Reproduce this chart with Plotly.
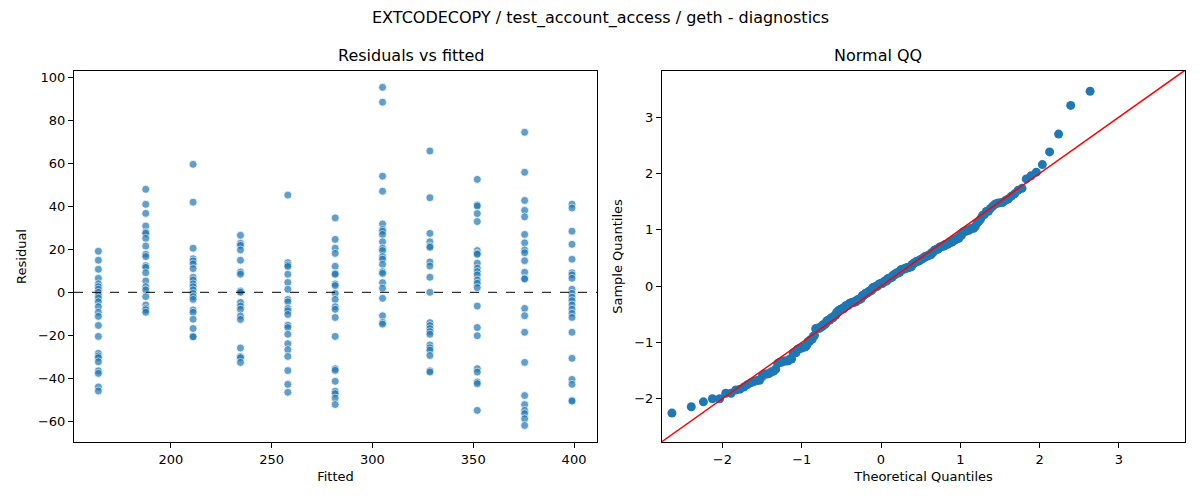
import math
import numpy as np
import plotly.graph_objects as go

# fitted values (one per group) and the residuals
fitted = [164, 187.5, 211, 234.5, 258, 281.5, 305, 328.5, 352, 375.5, 399]

res_164 = [19.1, 14.9, 10.7, 6.5, 3.9, 2.6, 1.4, 0, -1.4, -2.7, -4.4, -6.7, -9.3, -11.2,
           -15.4, -20.5, -28.4, -29.6, -30.4, -32.3, -36.5, -37.7, -44.0, -45.9]
res_187 = [47.9, 40.9, 36.7, 30.8, 28.0, 27.4, 25.1, 21.5, 17.7, 16.6, 12.4, 11.6, 9.1,
           5.3, 2.6, 1.1, -2.0, -5.9, -7.5, -8.2, -9.3]
res_211 = [59.5, 41.9, 20.5, 15.6, 14.6, 13.2, 11.0, 7.0, 5.7, 3.9, 2.6, 1.1, -0.5,
           -2.0, -3.3, -8.2, -9.3, -12.5, -16.8, -20.5, -20.7]
res_234 = [26.5, 22.8, 21.8, 19.7, 14.9, 9.4, 8.4, 0.6, 0, -4.7, -6.4, -7.9, -11.0,
           -12.6, -25.9, -29.9, -30.4, -32.6]
res_258 = [45.2, 13.8, 12.7, 12.0, 8.4, 4.6, 1.4, -3.3, -4.4, -7.5, -8.6, -10.3, -15.3,
           -16.4, -19.5, -23.9, -26.7, -29.8, -36.4, -42.8, -46.5]
res_281 = [34.6, 24.6, 20.5, 18.1, 12.1, 8.8, 8.4, 3.9, 3.1, -0.5, -3.3, -6.7, -7.9,
           -11.7, -20.5, -35.5, -36.3, -41.4, -46.0, -47.1, -49.2, -52.2]
res_305 = [95.3, 88.4, 54.0, 47.0, 31.8, 29.2, 28.4, 26.9, 23.5, 20.5, 19.4, 16.6, 15.4,
           13.0, 9.6, 8.8, 4.5, 1.9, -2.8, -10.9, -14.0, -14.8]
res_328 = [65.7, 44.0, 27.4, 23.5, 21.5, 20.9, 14.1, 12.2, 7.0, 0, -14.1, -15.5, -16.9,
           -18.3, -19.5, -24.5, -25.8, -26.9, -29.4, -36.5, -37.1]
res_352 = [52.5, 40.6, 40.1, 36.6, 32.9, 19.4, 18.1, 17.7, 13.5, 11.2, 9.6, 8.1, 5.7,
           4.2, 2.2, -6.4, -16.4, -20.2, -35.5, -37.1, -41.7, -42.5, -54.9]
res_375 = [74.4, 55.8, 42.7, 38.1, 35.1, 26.9, 23.0, 19.7, 18.4, 14.7, 9.3, 6.5, 6.2,
           -7.5, -10.9, -18.6, -32.6, -48.0, -52.2, -54.9, -56.4, -58.8, -61.9]
res_399 = [41.0, 39.2, 28.4, 22.3, 15.4, 9.1, 8.1, 6.5, 1.4, -0.5, -2.3, -3.9, -5.9,
           -7.9, -9.8, -11.7, -18.6, -30.7, -40.5, -42.8, -50.2, -50.6]

groups = [res_164, res_187, res_211, res_234, res_258, res_281,
          res_305, res_328, res_352, res_375, res_399]

x_fit = []
y_res = []
for f, g in zip(fitted, groups):
    x_fit += [f] * len(g)
    y_res += g
y_res = np.array(y_res)


def norm_ppf(p):
    lo, hi = -10.0, 10.0
    for _ in range(80):
        mid = (lo + hi) / 2
        if 0.5 * (1 + math.erf(mid / math.sqrt(2))) < p:
            lo = mid
        else:
            hi = mid
    return (lo + hi) / 2


# QQ: standardised sorted residuals vs normal quantiles
n = len(y_res)
sample_q = np.sort((y_res - y_res.mean()) / y_res.std())
theo_q = [norm_ppf(i / (n + 1)) for i in range(1, n + 1)]

blue = '#1f77b4'
font = 'DejaVu Sans'

# page has an 8px body margin, so size the figure to fit and map page pixels
W, H, OFF = 1192, 492, 8


def px(x):
    return (x - OFF) / W


def py(y):
    return 1 - (y - OFF) / H


fig = go.Figure()

fig.add_trace(go.Scatter(
    x=x_fit, y=y_res, mode='markers',
    marker=dict(color=blue, opacity=0.7, size=8, line=dict(color='white', width=0.8)),
    xaxis='x', yaxis='y', showlegend=False))

fig.add_trace(go.Scatter(
    x=theo_q, y=sample_q, mode='markers',
    marker=dict(color=blue, size=9),
    xaxis='x2', yaxis='y2', showlegend=False))

# 45 degree reference line
fig.add_trace(go.Scatter(
    x=[-5, 5], y=[-5, 5], mode='lines',
    line=dict(color='red', width=1.5),
    xaxis='x2', yaxis='y2', showlegend=False))

axis_common = dict(
    showgrid=False, zeroline=False, showline=True, linecolor='black', linewidth=1,
    mirror=True, ticks='outside', ticklen=5, tickcolor='black', automargin=False,
    tickfont=dict(family=font, size=13, color='black'))

fig.update_layout(
    width=W, height=H,
    margin=dict(l=0, r=0, t=0, b=0),
    plot_bgcolor='white', paper_bgcolor='white',
    font=dict(family=font, color='black'),
    xaxis=dict(axis_common, domain=[px(74), px(597)], range=[151.9, 411.4],
               tickvals=[200, 250, 300, 350, 400],
               title=dict(text='Fitted', font=dict(size=13), standoff=6)),
    yaxis=dict(axis_common, domain=[py(442), py(71)], range=[-69.6, 102.9],
               tickvals=[-60, -40, -20, 0, 20, 40, 60, 80, 100],
               title=dict(text='Residual', font=dict(size=13), standoff=8)),
    xaxis2=dict(axis_common, domain=[px(662), px(1185)], range=[-2.762, 3.834],
                tickvals=[-2, -1, 0, 1, 2, 3], anchor='y2',
                title=dict(text='Theoretical Quantiles', font=dict(size=13), standoff=6)),
    yaxis2=dict(axis_common, domain=[py(442), py(71)], range=[-2.77, 3.82],
                tickvals=[-2, -1, 0, 1, 2, 3], anchor='x2',
                title=dict(text='Sample Quantiles', font=dict(size=13), standoff=8)),
)

fig.add_shape(type='line', xref='x domain', yref='y', x0=0, x1=1, y0=0, y1=0,
              line=dict(color='black', width=1, dash='dash'))

fig.add_annotation(text='EXTCODECOPY / test_account_access / geth - diagnostics',
                   xref='paper', yref='paper', x=px(600), y=py(18), yanchor='middle',
                   showarrow=False, font=dict(size=16, family=font))
fig.add_annotation(text='Residuals vs fitted', xref='paper', yref='paper',
                   x=px((74 + 597) / 2), y=py(56), yanchor='middle', showarrow=False,
                   font=dict(size=16, family=font))
fig.add_annotation(text='Normal QQ', xref='paper', yref='paper',
                   x=px((662 + 1185) / 2), y=py(56), yanchor='middle', showarrow=False,
                   font=dict(size=16, family=font))

fig.write_html("out.html")
